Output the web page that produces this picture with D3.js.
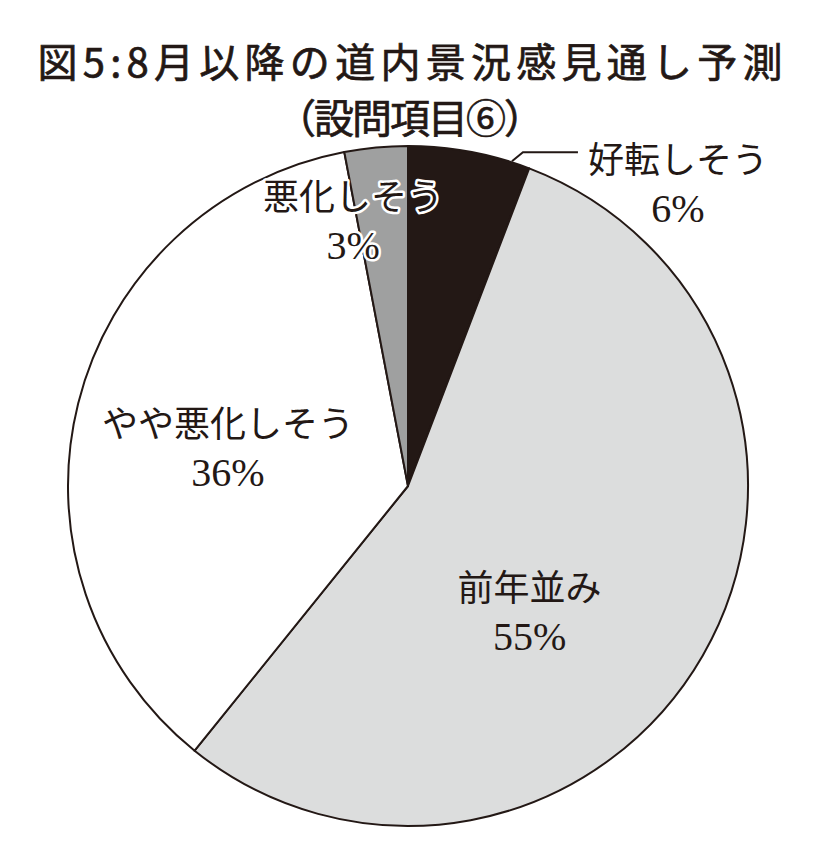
<!DOCTYPE html>
<html lang="ja">
<head>
<meta charset="utf-8">
<script src="https://cdn.jsdelivr.net/npm/d3@7"></script>
<style>
  html, body { margin: 0; padding: 0; background: #fff; }
  svg { display: block; }
</style>
</head>
<body>
<svg id="chart" width="820" height="866"></svg>
<script>
// Chart data
const titleLines = ['図5:8月以降の道内景況感見通し予測', '（設問項目⑥）'];
const categories = ['好転しそう', '前年並み', 'やや悪化しそう', '悪化しそう'];
const values = [5.8, 55.0, 36.2, 3.0];
const valueLabels = ['6%', '55%', '36%', '3%'];

// Styling per slice
const fills = ['#231815', '#dcdddd', '#ffffff', '#9fa0a0'];
// Label anchor in pie space: angle (deg, clockwise from 12 o'clock) and radius
const labelSpots = [
  { angle: 41.8, r: 405 },
  { angle: 136, r: 175 },
  { angle: 282, r: 184 },
  { angle: 348.3, r: 271 },
];

const width = 820;
const cx = 408;
const cy = 486;
const radius = 340;
const ink = '#231815';

const svg = d3.select('#chart');

// Title: stretched to the printed width, slightly heavier than regular
const titleWidths = [745, 268];
svg.append('g')
    .attr('class', 'title')
  .selectAll('text')
  .data(titleLines)
  .join('text')
    .attr('x', width / 2)
    .attr('y', (d, i) => 77 + i * 56)
    .attr('text-anchor', 'middle')
    .attr('font-family', '"Noto Sans CJK JP", sans-serif')
    .attr('font-weight', 400)
    .attr('font-size', 40)
    .attr('fill', ink)
    .attr('stroke', ink)
    .attr('stroke-width', 0.7)
    .attr('textLength', (d, i) => titleWidths[i])
    .attr('lengthAdjust', 'spacing')
    .text((d) => d);

const pieData = d3.pie().sort(null).value((d) => d)(values);
const arc = d3.arc().innerRadius(0).outerRadius(radius);

const pieG = svg.append('g')
    .attr('transform', `translate(${cx},${cy})`);

pieG.selectAll('path.slice')
  .data(pieData)
  .join('path')
    .attr('class', 'slice')
    .attr('d', arc)
    .attr('fill', (d, i) => fills[i])
    .attr('stroke', ink)
    .attr('stroke-width', 2)
    .attr('stroke-linejoin', 'round');

// Labels
const deg = Math.PI / 180;
const labelG = pieG.selectAll('g.label')
  .data(pieData)
  .join('g')
    .attr('class', 'label')
    .attr('transform', (d, i) => {
      const p = d3.pointRadial(labelSpots[i].angle * deg, labelSpots[i].r);
      return `translate(${p[0]},${p[1]})`;
    });

labelG.each(function (d, i) {
  const g = d3.select(this);
  const halo = i === 3;
  const lines = [categories[i], valueLabels[i]];
  g.selectAll('text')
    .data(lines)
    .join('text')
      .attr('x', 0)
      .attr('y', (t, j) => (j === 0 ? -11 : 38))
      .attr('text-anchor', 'middle')
      .attr('font-family', '"Liberation Serif", "Noto Sans CJK JP", serif')
      .attr('font-size', (t, j) => (j === 0 ? 36 : 40))
      .attr('fill', ink)
      .attr('stroke', halo ? '#fff' : 'none')
      .attr('stroke-width', halo ? 5 : 0)
      .attr('stroke-linejoin', 'round')
      .attr('paint-order', 'stroke')
      .text((t) => t);
});

// Leader line for the small top slice
const first = pieData[0];
const leadAngle = first.startAngle + (first.endAngle - first.startAngle) * 0.85;
const p0 = d3.pointRadial(leadAngle, radius + 1);
const labelPos = d3.pointRadial(labelSpots[0].angle * deg, labelSpots[0].r);
const p1 = [p0[0] + 11, p0[1] - 9];
const p2 = [labelPos[0] - 100, p1[1]];
pieG.append('path')
    .attr('d', d3.line()([p0, p1, p2]))
    .attr('fill', 'none')
    .attr('stroke', ink)
    .attr('stroke-width', 2);
</script>
</body>
</html>
